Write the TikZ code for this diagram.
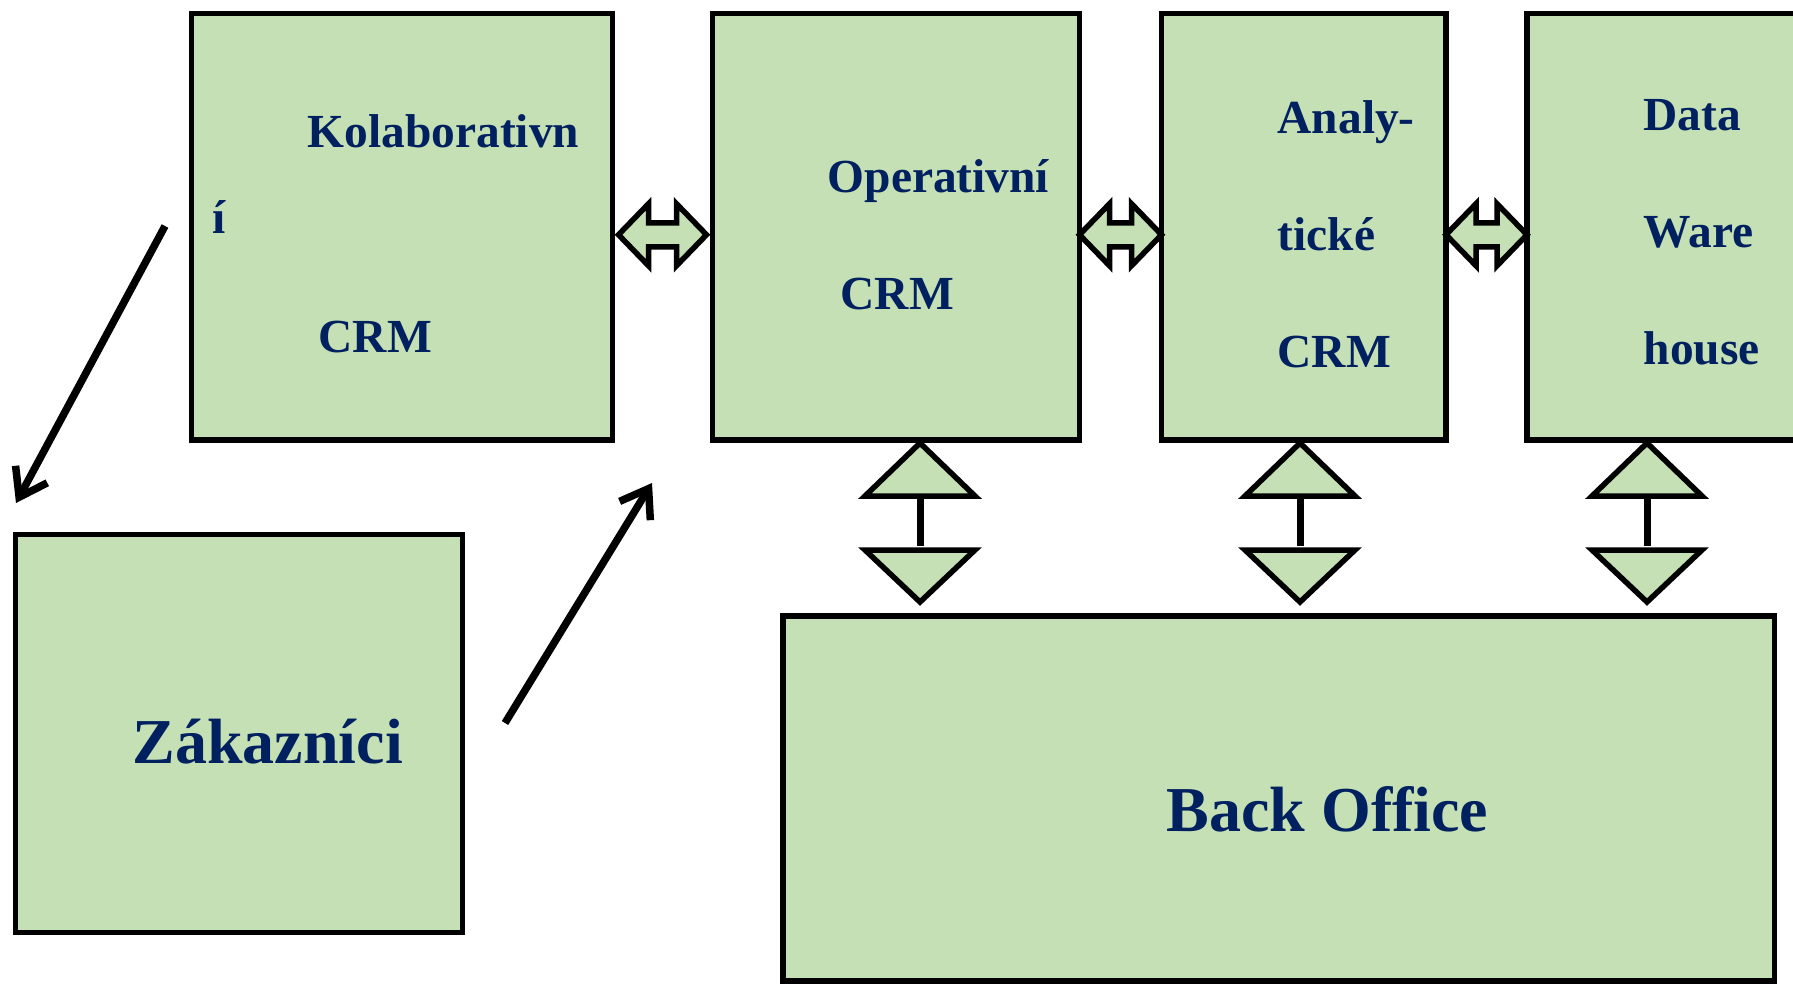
\documentclass[tikz,border=0pt]{standalone}
\usepackage{fontspec}
\setmainfont{Liberation Serif}
\usetikzlibrary{arrows.meta, positioning, calc}
\definecolor{crmgreen}{RGB}{197, 224, 180}
\definecolor{crmnavy}{RGB}{0, 32, 96}
\tikzset{
  crmbox/.style={rectangle, draw=black, fill=crmgreen, line width=0.55mm,
                 inner sep=0pt, outer sep=0pt, anchor=north west},
  lbl/.style={font=\bfseries\fontsize{13.5}{16}\selectfont, text=crmnavy,
              inner sep=0pt, anchor=base west},
  biglbl/.style={lbl, font=\bfseries\fontsize{18.2}{22}\selectfont},
  fatarrow/.style={draw=black, fill=crmgreen, line width=0.55mm},
  tri/.style={draw=black, fill=crmgreen, line width=0.55mm},
  shaft/.style={line width=0.7mm},
  flow/.style={-{Straight Barb[length=2.6mm, width=3.6mm]}, line width=0.75mm},
}

\begin{document}
\begin{tikzpicture}
  \useasboundingbox (0,0) rectangle (17.93,9.83);
  \clip (0,0) rectangle (17.93,9.83);

  % CRM blocks along the top
  \node[crmbox, minimum width=4.21cm, minimum height=4.265cm] (kolab) at (1.915,9.695) {};
  \node[crmbox, minimum width=3.67cm, minimum height=4.265cm] (oper) at (7.125,9.695) {};
  \node[crmbox, minimum width=2.845cm, minimum height=4.265cm] (anal) at (11.615,9.695) {};
  \node[crmbox, minimum width=3.2cm, minimum height=4.265cm] (dwh) at (15.27,9.695) {};

  % customers and back office
  \node[crmbox, minimum width=4.47cm, minimum height=3.98cm] (zak) at (0.155,4.485) {};
  \node[crmbox, minimum width=9.915cm, minimum height=3.65cm] (back) at (7.83,3.67) {};

  % fat double arrows between neighbouring blocks
  \foreach \a/\b/\pad in {kolab/oper/0.06, oper/anal/0, anal/dwh/0} {
    \draw[fatarrow] let \p1=($(\a.east)+(\pad,-0.08)$), \p2=($(\b.west)+(-\pad,-0.08)$) in
      (\p1) -- ++(0.30,0.31) -- ++(0,-0.19) -- ({\x2-0.30cm},{\y1+0.12cm}) -- ++(0,0.19)
      -- (\p2) -- ++(-0.30,-0.31) -- ++(0,0.19) -- ({\x1+0.30cm},{\y1-0.12cm}) -- ++(0,-0.19) -- cycle;
  }

  % links down to the back office
  \foreach \n/\vx [count=\i] in {oper/9.20, anal/13.00, dwh/16.47} {
    \coordinate (v\i) at (\vx,0);
    \draw[shaft] ($(v\i |- \n.south)+(0,-0.5)$) -- ($(v\i |- back.north)+(0,0.7)$);
    \draw[tri] ($(v\i |- \n.south)+(0,-0.03)$) -- ++(-0.55,-0.53) -- ++(1.10,0) -- cycle;
    \draw[tri] ($(v\i |- back.north)+(0,0.14)$) -- ++(-0.55,0.52) -- ++(1.10,0) -- cycle;
  }

  % customer flow
  \coordinate (kz-from) at (1.65,7.57);
  \coordinate (kz-to) at (0.16,4.80);
  \coordinate (zo-from) at (5.05,2.60);
  \coordinate (zo-to) at (6.52,5.00);
  \draw[flow] (kz-from) -- (kz-to);
  \draw[flow] (zo-from) -- (zo-to);

  % labels
  \node[lbl] (kolab-1) at (3.07,8.36) {Kolaborativn};
  \node[lbl] (kolab-2) at (2.12,7.50) {í};
  \node[lbl] (kolab-3) at (3.18,6.31) {CRM};
  \node[lbl] (oper-1) at (8.27,7.91) {Operativní};
  \node[lbl] (oper-2) at (8.40,6.74) {CRM};
  \foreach \t [count=\i] in {Analy-, tické, CRM}
    \node[lbl] (anal-\i) at (12.77,{9.67-1.17*\i}) {\t};
  \foreach \t [count=\i] in {Data, Ware, house}
    \node[lbl] (dwh-\i) at (16.43,{9.70-1.17*\i}) {\t};
  \node[biglbl] (zak-1) at (1.32,2.20) {Zákazníci};
  \node[biglbl] (back-1) at (11.66,1.52) {Back Office};
\end{tikzpicture}
\end{document}
